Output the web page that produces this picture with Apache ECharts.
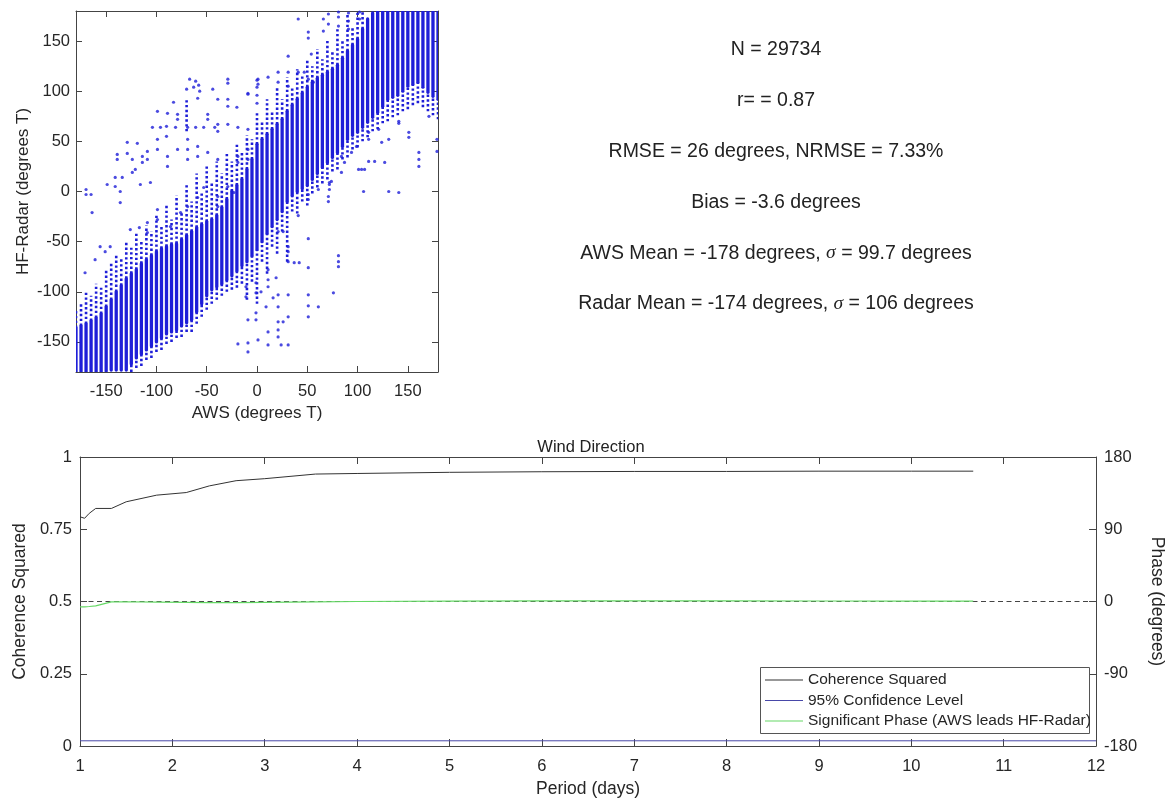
<!DOCTYPE html>
<html><head><meta charset="utf-8">
<script src="https://cdn.jsdelivr.net/npm/echarts@6/dist/echarts.min.js"></script>
<style>html,body{margin:0;padding:0;background:#fff}#c{width:1174px;height:803px}</style>
</head><body><div id="c"></div>
<script>
// ---------- scatter (AWS vs HF-Radar) ----------
const scatterTicks = [-150, -100, -50, 0, 50, 100, 150];
// dense vertical runs of stacked points: [AWS, radarLow, radarHigh]
const denseColumns = [
[-180,-180,-136],[-175,-180,-134],[-170,-180,-132],[-165,-180,-129],[-160,-180,-126],[-155,-180,-122],
[-150,-179,-115],[-145,-178,-108],[-140,-178,-100],[-135,-178,-94],[-130,-178,-87],[-125,-172,-82],
[-120,-166,-78],[-115,-162,-72],[-110,-158,-68],[-105,-154,-64],[-100,-150,-60],[-95,-146,-57],
[-90,-142,-55],[-85,-140,-53],[-80,-138,-52],[-75,-134,-48],[-70,-131,-44],[-65,-128,-40],
[-60,-120,-36],[-55,-112,-33],[-50,-104,-30],[-45,-98,-28],[-40,-95,-24],[-35,-92,-16],
[-30,-88,-8],[-25,-84,0],[-20,-79,6],[-15,-74,12],[-10,-70,22],[-5,-64,32],
[0,-58,47],[5,-50,52],[10,-42,57],[15,-35,62],[20,-28,67],[25,-20,72],
[30,-10,80],[35,-4,86],[40,0,92],[45,3,98],[50,6,104],[55,12,109],
[60,18,113],[65,24,116],[70,29,119],[75,34,122],[80,39,126],[85,45,133],
[90,52,140],[95,56,146],[100,59,152],[105,64,162],[110,69,172],[115,74,178],
[120,79,180],[125,85,180],[130,92,180],[135,94,180],[140,96,180],[145,100,180],
[150,105,180],[155,107,180],[160,109,180],[165,104,180],[170,99,180],[175,95,180],[180,92,180]
];
// sparser dotted runs above the dense band: [AWS, radarLow, radarHigh]
const sparseAbove = [
[-180,-136,-118],[-175,-134,-110],[-170,-132,-100],[-165,-129,-104],[-160,-126,-92],[-155,-122,-96],
[-150,-115,-78],[-145,-108,-70],[-140,-100,-62],[-135,-94,-66],[-130,-87,-50],[-125,-82,-56],
[-120,-78,-40],[-115,-72,-48],[-110,-68,-34],[-105,-64,-40],[-100,-60,-22],[-95,-57,-35],
[-90,-55,-12],[-85,-53,-28],[-80,-52,-4],[-75,-48,-20],[-70,-44,8],[-65,-40,-10],
[-60,-36,18],[-55,-33,0],[-50,-30,26],[-45,-28,10],[-40,-24,30],[-35,-16,18],
[-30,-8,40],[-25,0,30],[-20,6,48],[-15,12,40],[-10,22,56],[-5,32,52],
[0,47,80],[5,52,70],[10,57,92],[15,62,80],[20,67,104],[25,72,92],
[30,80,114],[35,86,104],[40,92,122],[45,98,115],[50,104,132],[55,109,125],
[60,113,142],[65,116,132],[70,119,152],[75,122,140],[80,126,164],[85,133,150],
[90,140,176],[95,146,165],[100,152,180],[105,162,180],[-70,60,92]
];
// sparser dotted runs below the dense band: [AWS, radarLow, radarHigh]
const sparseBelow = [
[-125,-180,-172],[-120,-176,-166],[-115,-174,-162],[-110,-168,-158],[-105,-166,-154],[-100,-160,-150],
[-95,-158,-146],[-90,-152,-142],[-85,-150,-140],[-80,-146,-138],[-75,-145,-134],[-70,-140,-131],
[-65,-140,-128],[-60,-132,-120],[-55,-125,-112],[-50,-118,-104],[-45,-112,-98],[-40,-108,-95],
[-35,-104,-92],[-30,-100,-88],[-25,-98,-84],[-20,-96,-79],[-15,-92,-74],[-10,-108,-70],
[-5,-90,-64],[0,-112,-58],[5,-70,-50],[10,-82,-42],[15,-55,-35],[20,-62,-28],
[25,-40,-20],[30,-70,-10],[35,-20,-4],[40,-22,0],[45,-10,3],[50,-14,6],
[55,-2,12],[60,4,18],[65,8,24],[70,12,29],[75,20,34],[80,22,39],
[85,32,45],[90,34,52],[95,42,56],[100,44,59],[105,50,64],[110,54,69],
[115,60,74],[120,62,79],[125,68,85],[130,70,92],[135,74,94],[140,76,96],
[145,80,100],[150,82,105],[155,86,107],[160,88,109],[165,84,104],[170,80,99],[175,76,95],[180,72,92]
];
// isolated points: [AWS, radar]
const scatterPoints = [
[-70,102],[-67,112],[-63,104],[-61,110],[-58,106],[-57,100],[-29,112],[-29,108],[0,111],[0,104],[0,96],[0,88],
[-44,102],[-9,98],[-39,92],[-29,92],[-29,85],[-20,84],[-83,89],[-99,80],[-89,78],[-79,77],[-79,72],
[-59,93],[-104,64],[-96,64],[-90,65],[-90,55],[-81,64],[-69,64],[-61,64],[-53,64],[-42,64],[-29,67],[-19,64],[-9,62],
[-49,72],[-49,77],[-39,67],[-39,60],[-129,49],[-129,38],[-119,48],[-139,37],[-139,32],[-149,7],[-141,14],[-134,14],
[-109,40],[-109,32],[-114,35],[-114,29],[-99,52],[-99,42],[-89,35],[-89,25],[-69,52],[-69,42],[-69,32],[-79,42],
[-59,45],[-59,35],[-49,39],[-39,32],[-19,35],[-19,29],[-9,42],[-9,32],[-124,32],[-124,19],[-121,22],[-116,7],[-106,9],
[-170,2],[-170,-3],[-165,-3],[-164,-21],[-141,5],[-136,0],[-136,-11],[-126,-38],[-117,-36],[-151,-60],[-146,-55],
[-161,-68],[-171,-81],[-156,-55],[-109,-31],[-109,-41],[-99,-18],[-99,-28],[-86,-35],[-76,-21],[-69,-15],[-59,-6],
[-53,4],[-39,-5],[-39,-15],[-29,5],[-23,-1],
[41,172],[51,159],[51,153],[31,135],[54,137],[66,172],[66,160],[71,177],[71,167],[81,179],[81,174],[81,165],
[91,178],[91,170],[91,162],[102,179],[102,172],[21,119],[21,109],[1,112],[1,107],[11,114],[-9,97],[31,119],[31,105],
[41,119],[47,119],[51,112],[56,109],
[141,70],[141,68],[151,59],[151,54],[161,39],[161,32],[161,25],[171,75],[179,52],[179,40],[131,0],[141,-1],[106,0],
[111,30],[117,30],[107,22],[127,29],[94,39],[99,45],[101,22],[104,22],[84,19],[74,10],[72,2],[124,49],[131,52],
[121,62],[111,59],[111,52],[84,35],[87,29],
[72,9],[72,7],[61,2],[51,-3],[51,-8],[71,-5],[71,-10],[41,-24],[51,-47],[51,-76],[81,-64],[81,-70],[81,-75],[76,-101],
[51,-103],[51,-114],[51,-125],[61,-115],[31,-70],[37,-71],[42,-71],[31,-103],[31,-125],[26,-130],[21,-130],[21,-138],
[21,-145],[24,-153],[11,-153],[1,-148],[-9,-151],[11,-140],[-1,-121],[-1,-128],[-9,-128],[9,-115],[21,-115],[21,-103],
[19,-86],[31,-55],[31,-60],[21,-40],[26,-40],[11,-78],[11,-88],[11,-95],[-1,-91],[-1,-101],[-11,-95],[-11,-105],[4,-100],
[16,-106],[-19,-152],[-9,-160],[31,-153]
];

// ---------- statistics text ----------
const statsLines = [
  'N = 29734',
  'r= = 0.87',
  'RMSE = 26 degrees, NRMSE = 7.33%',
  'Bias = -3.6 degrees',
  'AWS Mean = -178 degrees, {s|σ} = 99.7 degrees',
  'Radar Mean = -174 degrees, {s|σ} = 106 degrees'
];

// ---------- coherence panel ----------
const chartTitle = 'Wind Direction';
const periods   = [1, 1.05, 1.1, 1.17, 1.34, 1.5, 1.83, 2.15, 2.4, 2.69, 3.0, 3.55, 4.0, 5.0, 6.0, 7.0, 8.0, 9.0, 10.0, 10.67];
const coherence = [0.793, 0.788, 0.805, 0.822, 0.822, 0.845, 0.868, 0.877, 0.900, 0.918, 0.925, 0.941, 0.943, 0.947, 0.949, 0.950, 0.950, 0.951, 0.951, 0.951];
const phase     = [-6.6, -6.6, -6.2, -5.5, -0.5, -0.3, -0.8, -1.2, -1.5, -1.5, -1.2, -0.5, 0, 0.5, 0.8, 0.8, 0.7, 0.6, 0.5, 0.5];
const confidencePeriods = [1, 12];
const confidence = [0.018, 0.018];
const zeroPeriods = [1, 12];
const zeroPhase = [0, 0];
const legendNames = ['Coherence Squared', '95% Confidence Level', 'Significant Phase (AWS leads HF-Radar)'];

const FONT = '"Liberation Sans", Arial, sans-serif';
const AX = '#444';
const TXT = '#262626';
const BLUE = '#1e1ed8';

function stripe(width, dash, cap) {
  return function (params, api) {
    const a = api.coord([api.value(0), api.value(1)]);
    const b = api.coord([api.value(0), api.value(2)]);
    return { type: 'line', shape: { x1: a[0], y1: a[1], x2: b[0], y2: b[1] },
      style: { stroke: BLUE, lineWidth: width, lineDash: dash, lineCap: cap } };
  };
}
function baseAxis(extra) {
  return Object.assign({
    type: 'value',
    axisLine: { show: true, onZero: false, lineStyle: { color: AX, width: 1 } },
    axisTick: { show: true, inside: true, length: 7, lineStyle: { color: AX } },
    axisLabel: { color: TXT, fontFamily: FONT, fontSize: 16.5 },
    splitLine: { show: false },
    nameTextStyle: { color: TXT, fontFamily: FONT, fontSize: 17 }
  }, extra);
}
const zip = (a, b) => a.map((v, i) => [v, b[i]]);

const chart = echarts.init(document.getElementById('c'), null, { renderer: 'canvas' });
chart.setOption({
  animation: false,
  backgroundColor: '#fff',
  grid: [
    { left: 76, top: 11, width: 362, height: 361 },
    { left: 80, top: 457, width: 1022, height: 289 }
  ],
  xAxis: [
    baseAxis({ gridIndex: 0, min: -180, max: 180, position: 'bottom',
      axisTick: { show: true, inside: true, length: 6, customValues: scatterTicks, lineStyle: { color: AX } },
      axisLabel: { customValues: scatterTicks, margin: 11, color: TXT, fontFamily: FONT, fontSize: 16.5 },
      name: 'AWS (degrees T)', nameLocation: 'middle', nameGap: 33 }),
    baseAxis({ gridIndex: 0, min: -180, max: 180, position: 'top',
      axisTick: { show: true, inside: true, length: 6, customValues: scatterTicks, lineStyle: { color: AX } },
      axisLabel: { show: false } }),
    baseAxis({ gridIndex: 1, min: 1, max: 12, interval: 1, position: 'bottom',
      axisLabel: { margin: 12, color: TXT, fontFamily: FONT, fontSize: 16.5 },
      name: 'Period (days)', nameLocation: 'middle', nameGap: 34,
      nameTextStyle: { color: TXT, fontFamily: FONT, fontSize: 17.5 } }),
    baseAxis({ gridIndex: 1, min: 1, max: 12, interval: 1, position: 'top', axisLabel: { show: false } })
  ],
  yAxis: [
    baseAxis({ gridIndex: 0, min: -180, max: 180, position: 'left',
      axisTick: { show: true, inside: true, length: 6, customValues: scatterTicks, lineStyle: { color: AX } },
      axisLabel: { customValues: scatterTicks, margin: 6, color: TXT, fontFamily: FONT, fontSize: 16.5 },
      name: 'HF-Radar (degrees T)', nameLocation: 'middle', nameGap: 44 }),
    baseAxis({ gridIndex: 0, min: -180, max: 180, position: 'right',
      axisTick: { show: true, inside: true, length: 6, customValues: scatterTicks, lineStyle: { color: AX } },
      axisLabel: { show: false } }),
    baseAxis({ gridIndex: 1, min: 0, max: 1, interval: 0.25, position: 'left',
      axisLabel: { margin: 8, color: TXT, fontFamily: FONT, fontSize: 16.5 },
      name: 'Coherence Squared', nameLocation: 'middle', nameGap: 46,
      nameTextStyle: { color: TXT, fontFamily: FONT, fontSize: 17.5 } }),
    baseAxis({ gridIndex: 1, min: -180, max: 180, interval: 90, position: 'right',
      axisLabel: { margin: 8, color: TXT, fontFamily: FONT, fontSize: 16.5 },
      name: 'Phase (degrees)', nameLocation: 'middle', nameGap: 47, nameRotate: -90,
      nameTextStyle: { color: TXT, fontFamily: FONT, fontSize: 17.5 } })
  ],
  legend: {
    data: legendNames, orient: 'vertical', left: 760, top: 667, z: 6,
    icon: 'rect', itemWidth: 38, itemHeight: 1, itemGap: 4.5,
    padding: [5, 8, 4, 5], borderWidth: 0, backgroundColor: 'transparent',
    textStyle: { color: TXT, fontFamily: FONT, fontSize: 15.5, lineHeight: 16 },
    selectedMode: false
  },
  graphic: statsLines.map((t, i) => ({
    type: 'text', x: 776, y: 50 + i * 50.8,
    style: { text: t, fill: '#222', fontFamily: FONT, fontSize: 19.5, align: 'center', verticalAlign: 'middle',
      rich: { s: { fontFamily: '"Liberation Serif", serif', fontStyle: 'italic', fontSize: 19.5, fill: '#222' } } }
  })).concat([{
    type: 'text', x: 591, y: 447,
    style: { text: chartTitle, fill: '#222', fontFamily: FONT, fontSize: 16.5, align: 'center', verticalAlign: 'middle' }
  }, {
    type: 'rect', z: 4, shape: { x: 760.5, y: 667.5, width: 329, height: 66 },
    style: { fill: '#fff', stroke: '#555', lineWidth: 1 }
  }]),
  series: [
    { type: 'custom', xAxisIndex: 0, yAxisIndex: 0, renderItem: stripe(2.6, [2.4, 2.4], 'butt'), data: sparseAbove,
      encode: { x: 0, y: [1, 2] }, silent: true, clip: true },
    { type: 'custom', xAxisIndex: 0, yAxisIndex: 0, renderItem: stripe(2.6, [2.4, 2.4], 'butt'), data: sparseBelow,
      encode: { x: 0, y: [1, 2] }, silent: true, clip: true },
    { type: 'custom', xAxisIndex: 0, yAxisIndex: 0, renderItem: stripe(3.3, null, 'round'), data: denseColumns,
      encode: { x: 0, y: [1, 2] }, silent: true, clip: true },
    { type: 'scatter', xAxisIndex: 0, yAxisIndex: 0, data: scatterPoints, symbolSize: 3.2,
      itemStyle: { color: BLUE }, silent: true },
    { name: legendNames[0], type: 'line', xAxisIndex: 2, yAxisIndex: 2, data: zip(periods, coherence),
      symbol: 'none', color: '#333', lineStyle: { color: '#333', width: 1 } },
    { name: legendNames[1], type: 'line', xAxisIndex: 2, yAxisIndex: 2, data: zip(confidencePeriods, confidence),
      symbol: 'none', color: '#4848a8', lineStyle: { color: '#4848a8', width: 1 } },
    { name: legendNames[2], type: 'line', xAxisIndex: 2, yAxisIndex: 3, data: zip(periods, phase),
      symbol: 'none', color: '#66d866', lineStyle: { color: '#66d866', width: 1.2 } },
    { type: 'line', xAxisIndex: 2, yAxisIndex: 3, data: zip(zeroPeriods, zeroPhase),
      symbol: 'none', lineStyle: { color: '#444', width: 1, type: [5, 3.5] }, z: 1 }
  ]
});
</script></body></html>
